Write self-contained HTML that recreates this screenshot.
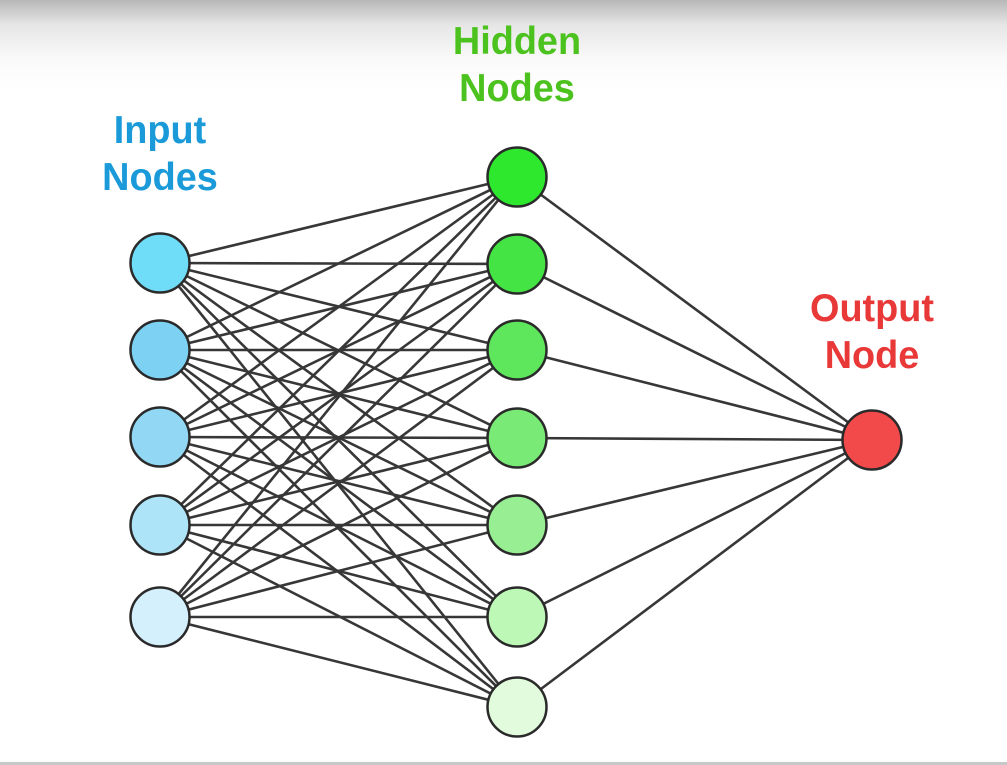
<!DOCTYPE html>
<html><head><style>
html,body{margin:0;padding:0;}
body{width:1007px;height:765px;overflow:hidden;background:linear-gradient(#b8b8b8 0px,#e6e6e6 25px,#fafafa 60px,#fff 90px);font-family:"Liberation Sans",sans-serif;}
.lbl{position:absolute;font-weight:bold;font-size:39px;line-height:47px;text-align:center;transform:scaleX(0.97);}
</style></head><body>
<div style="position:absolute;left:0;top:762px;width:1007px;height:3px;background:#c8c8c8"></div>
<div class="lbl" style="left:60px;top:107px;width:200px;color:#1a9ad8">Input<br>Nodes</div>
<div class="lbl" style="left:417px;top:18px;width:200px;color:#4cc21e">Hidden<br>Nodes</div>
<div class="lbl" style="left:772px;top:285px;width:200px;color:#e83838">Output<br>Node</div>
<svg width="1007" height="765" style="position:absolute;left:0;top:0">
<g id="lines" stroke="#222" stroke-width="2.6" opacity="0.9"></g>
<g id="nodes" stroke="#2a2a2a" stroke-width="2.5"></g>
</svg>
<script>
var ins=[263,350,437,525,617].map(function(y){return[160,y]});
var hid=[177,264,350,438,525,617,707].map(function(y){return[517,y]});
var out=[872,440];
var L=document.getElementById('lines'),N=document.getElementById('nodes'),ns='http://www.w3.org/2000/svg';
function line(a,b){var l=document.createElementNS(ns,'line');l.setAttribute('x1',a[0]);l.setAttribute('y1',a[1]);l.setAttribute('x2',b[0]);l.setAttribute('y2',b[1]);L.appendChild(l);}
ins.forEach(function(a){hid.forEach(function(b){line(a,b);});});
hid.forEach(function(b){line(b,out);});
function circ(p,f){var c=document.createElementNS(ns,'circle');c.setAttribute('cx',p[0]);c.setAttribute('cy',p[1]);c.setAttribute('r',29.5);c.setAttribute('fill',f);N.appendChild(c);}
var ic=['#6fdcf8','#7dd2f3','#92d8f4','#ade4f8','#d3f0fc'];
var hc=['#2ee82e','#44e444','#5ee65c','#7aea76','#98ee92','#bef8b6','#e2fbdc'];
ins.forEach(function(p,i){circ(p,ic[i]);});
hid.forEach(function(p,i){circ(p,hc[i]);});
circ(out,'#f24a4a');
</script>
</body></html>
